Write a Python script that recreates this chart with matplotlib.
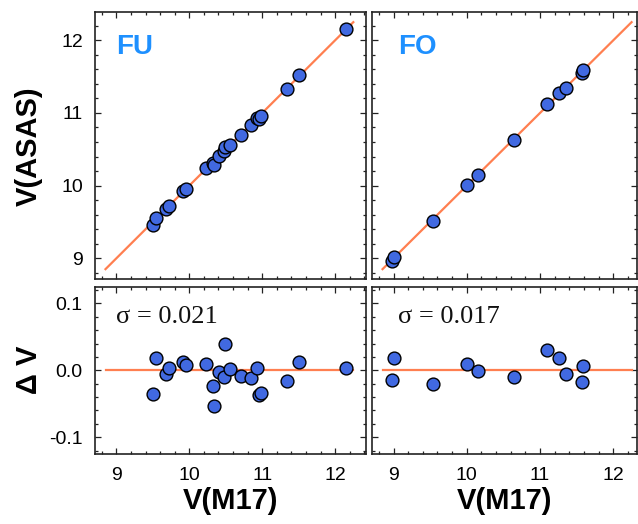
import matplotlib
matplotlib.use('Agg')
import matplotlib.pyplot as plt
from matplotlib.ticker import MultipleLocator, FormatStrFormatter
import numpy as np

plt.rcParams['font.family'] = ['Liberation Sans', 'DejaVu Sans']
plt.rcParams['axes.unicode_minus'] = False

# FU stars: M17 photometry vs ASAS, and the residual dV = V(ASAS) - V(M17)
fu_m17 = [9.50, 9.54, 9.68, 9.72, 9.91, 9.95, 10.23, 10.33, 10.34, 10.41, 10.48,
          10.49, 10.56, 10.71, 10.85, 10.93, 10.96, 10.99, 11.34, 11.51, 12.15]
fu_dv = [-0.036, 0.018, -0.006, 0.004, 0.012, 0.008, 0.009, -0.024, -0.054, -0.002, -0.010,
         0.039, 0.002, -0.008, -0.011, 0.003, -0.037, -0.034, -0.016, 0.013, 0.004]
fu_asas = [9.464, 9.558, 9.674, 9.724, 9.922, 9.958, 10.239, 10.306, 10.286, 10.408, 10.470,
           10.529, 10.562, 10.702, 10.839, 10.933, 10.923, 10.956, 11.324, 11.523, 12.154]

# FO stars
fo_m17 = [8.98, 9.00, 9.54, 10.00, 10.15, 10.64, 11.09, 11.26, 11.35, 11.57, 11.59]
fo_dv = [-0.014, 0.019, -0.021, 0.009, -0.001, -0.010, 0.030, 0.018, -0.006, -0.017, 0.006]
fo_asas = [8.966, 9.019, 9.519, 10.009, 10.149, 10.630, 11.120, 11.278, 11.344, 11.553, 11.596]

fu_sigma = 0.021
fo_sigma = 0.017

line_range = [8.85, 12.25]

W, H = 638, 524
fig = plt.figure(figsize=(W / 100, H / 100), dpi=100)


def box(x0, y0, x1, y1):
    return [x0 / W, 1 - y1 / H, (x1 - x0) / W, (y1 - y0) / H]


ax_fu = fig.add_axes(box(95.3, 12, 365.7, 279.3))
ax_fo = fig.add_axes(box(372.3, 12, 636.7, 279.3))
ax_fu_r = fig.add_axes(box(95.3, 287.3, 365.7, 454))
ax_fo_r = fig.add_axes(box(372.3, 287.3, 636.7, 454))

dot = dict(s=85, color='#4169e1', edgecolors='black', linewidths=1.0, zorder=3)
line_kw = dict(color='#ff7f50', lw=1.6, zorder=2)

for ax, x, y in [(ax_fu, fu_m17, fu_asas), (ax_fo, fo_m17, fo_asas)]:
    ax.plot(line_range, line_range, **line_kw)
    ax.scatter(x, y, **dot)
    ax.set_ylim(8.71, 12.39)

for ax, x, dv in [(ax_fu_r, fu_m17, fu_dv), (ax_fo_r, fo_m17, fo_dv)]:
    ax.plot(line_range, [0, 0], **line_kw)
    ax.scatter(x, dv, **dot)
    ax.set_ylim(-0.125, 0.124)
    ax.yaxis.set_major_locator(MultipleLocator(0.1))
    ax.yaxis.set_minor_locator(MultipleLocator(0.02))
    ax.yaxis.set_major_formatter(FormatStrFormatter('%.1f'))

for ax in [ax_fu, ax_fu_r]:
    ax.set_xlim(8.71, 12.42)
for ax in [ax_fo, ax_fo_r]:
    ax.set_xlim(8.71, 12.32)

for ax in [ax_fu, ax_fo]:
    ax.yaxis.set_major_locator(MultipleLocator(1))
    ax.yaxis.set_minor_locator(MultipleLocator(0.2))

for ax in [ax_fu, ax_fo, ax_fu_r, ax_fo_r]:
    ax.xaxis.set_major_locator(MultipleLocator(1))
    ax.xaxis.set_minor_locator(MultipleLocator(0.2))
    ax.tick_params(which='both', direction='in', top=True, right=True,
                   width=0.9, labelsize=14, color='#222222')
    ax.tick_params(which='major', length=4.5, pad=9)
    ax.tick_params(which='minor', length=2.5)
    for sp in ax.spines.values():
        sp.set_linewidth(1.2)
        sp.set_color('#222222')

ax_fu.tick_params(labelbottom=False)
ax_fo.tick_params(labelbottom=False, labelleft=False)
ax_fo_r.tick_params(labelleft=False)

ax_fu.text(0.077, 0.87, 'FU', transform=ax_fu.transAxes, color='#1e90ff',
           fontsize=20, fontweight='bold', va='center', ha='left')
ax_fo.text(0.097, 0.87, 'FO', transform=ax_fo.transAxes, color='#1e90ff',
           fontsize=20, fontweight='bold', va='center', ha='left')

serif = ['Liberation Serif', 'DejaVu Serif']
ax_fu_r.text(0.077, 0.82, f'σ = {fu_sigma:.3f}', transform=ax_fu_r.transAxes,
             family=serif, fontsize=19, va='center', ha='left', color='#111111')
ax_fo_r.text(0.097, 0.82, f'σ = {fo_sigma:.3f}', transform=ax_fo_r.transAxes,
             family=serif, fontsize=19, va='center', ha='left', color='#111111')

fig.text(29 / W, 1 - 146 / H, 'V(ASAS)', rotation=90, fontsize=21, fontweight='bold',
         ha='center', va='center')
fig.text(29 / W, 1 - 370 / H, 'Δ V', rotation=90, fontsize=21, fontweight='bold',
         ha='center', va='center')
fig.text(230.5 / W, 1 - 501 / H, 'V(M17)', fontsize=21, fontweight='bold',
         ha='center', va='center')
fig.text(504.5 / W, 1 - 501 / H, 'V(M17)', fontsize=21, fontweight='bold',
         ha='center', va='center')

fig.savefig('out.png', dpi=100)
